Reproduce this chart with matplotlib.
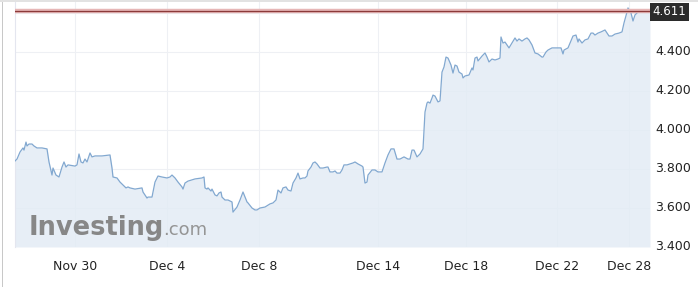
import matplotlib
matplotlib.use("Agg")
import matplotlib.pyplot as plt
from matplotlib.patches import Rectangle

# time index (session-based position along the axis) and yield values
t = [0, 2, 5, 8, 9, 11, 12, 14, 17, 19, 22, 27, 32, 34, 37, 38, 41, 44, 47, 49,
     51, 53, 60, 62, 64, 66, 68, 70, 72, 75, 77, 80, 87, 95, 97, 98, 102, 105, 108, 111,
     113, 115, 120, 127, 128, 132, 133, 137, 140, 143, 147, 152, 155, 157, 160, 163, 167, 168, 170, 173,
     180, 187, 189, 190, 192, 193, 196, 197, 200, 202, 204, 206, 207, 210, 213, 217, 218, 222, 225, 228,
     232, 233, 237, 240, 242, 245, 250, 255, 258, 261, 263, 266, 268, 271, 273, 276, 278, 281, 283, 285,
     288, 290, 292, 293, 296, 298, 300, 302, 305, 308, 312, 313, 315, 318, 320, 322, 325, 327, 329, 332,
     335, 338, 340, 343, 347, 348, 350, 352, 353, 357, 360, 363, 367, 370, 373, 376, 379, 382, 385, 389,
     393, 395, 397, 399, 402, 405, 408, 410, 412, 413, 415, 417, 418, 420, 423, 425, 427, 429, 431, 433,
     436, 438, 440, 442, 444, 447, 448, 450, 454, 457, 458, 460, 462, 463, 467, 470, 472, 474, 477, 480,
     483, 485, 486, 488, 490, 492, 494, 497, 500, 502, 504, 507, 510, 512, 514, 517, 520, 523, 527, 528,
     531, 533, 537, 540, 543, 546, 548, 549, 553, 555, 558, 561, 563, 564, 567, 570, 573, 576, 578, 580,
     583, 586, 590, 592, 594, 597, 600, 604, 607, 609, 612, 613, 616, 618, 620, 622, 624, 626, 628, 632,
     635]
yld = [3.841, 3.851, 3.887, 3.908, 3.897, 3.938, 3.918, 3.928, 3.928, 3.918, 3.908, 3.908, 3.903, 3.836, 3.769, 3.805, 3.769, 3.759, 3.810, 3.836,
       3.810, 3.821, 3.815, 3.821, 3.877, 3.836, 3.831, 3.851, 3.836, 3.882, 3.862, 3.867, 3.867, 3.872, 3.805, 3.759, 3.754, 3.733, 3.718, 3.703,
       3.708, 3.703, 3.697, 3.703, 3.682, 3.651, 3.656, 3.656, 3.733, 3.764, 3.759, 3.754, 3.759, 3.769, 3.754, 3.733, 3.708, 3.697, 3.728, 3.738,
       3.749, 3.754, 3.759, 3.703, 3.697, 3.703, 3.687, 3.697, 3.667, 3.662, 3.677, 3.682, 3.656, 3.641, 3.641, 3.631, 3.579, 3.605, 3.641, 3.682,
       3.631, 3.626, 3.600, 3.590, 3.590, 3.600, 3.605, 3.621, 3.626, 3.641, 3.692, 3.677, 3.703, 3.708, 3.692, 3.687, 3.728, 3.754, 3.779, 3.749,
       3.754, 3.754, 3.764, 3.790, 3.810, 3.831, 3.836, 3.826, 3.805, 3.805, 3.810, 3.810, 3.785, 3.785, 3.790, 3.779, 3.779, 3.795, 3.821, 3.821,
       3.826, 3.831, 3.836, 3.826, 3.815, 3.810, 3.728, 3.733, 3.769, 3.795, 3.795, 3.785, 3.785, 3.831, 3.872, 3.903, 3.903, 3.851, 3.851, 3.862,
       3.851, 3.851, 3.897, 3.897, 3.862, 3.877, 3.903, 4.092, 4.138, 4.144, 4.138, 4.164, 4.179, 4.174, 4.144, 4.149, 4.297, 4.323, 4.374, 4.369,
       4.333, 4.292, 4.333, 4.328, 4.297, 4.287, 4.267, 4.277, 4.282, 4.318, 4.308, 4.369, 4.374, 4.354, 4.379, 4.395, 4.374, 4.349, 4.364, 4.359,
       4.364, 4.369, 4.477, 4.446, 4.451, 4.436, 4.421, 4.446, 4.472, 4.456, 4.467, 4.456, 4.467, 4.472, 4.462, 4.436, 4.395, 4.390, 4.374, 4.374,
       4.400, 4.410, 4.421, 4.421, 4.421, 4.421, 4.390, 4.410, 4.421, 4.446, 4.482, 4.487, 4.451, 4.467, 4.446, 4.462, 4.467, 4.497, 4.497, 4.487,
       4.497, 4.503, 4.513, 4.497, 4.482, 4.482, 4.492, 4.497, 4.503, 4.549, 4.605, 4.626, 4.600, 4.559, 4.590, 4.600, 4.615, 4.605, 4.615, 4.605,
       4.611]
tick_pos = [60, 152, 244, 363, 451, 542, 614]
tick_labels = ["Nov 30", "Dec 4", "Dec 8", "Dec 14", "Dec 18", "Dec 22", "Dec 28"]
y_ticks = [3.4, 3.6, 3.8, 4.0, 4.2, 4.4]
last_value = 4.611

W, H = 698, 287
fig = plt.figure(figsize=(W / 100, H / 100), dpi=100)
fig.patch.set_facecolor("white")
ax = fig.add_axes([15 / W, 40 / H, 635 / W, 247 / H])
ax.set_facecolor("white")

ymin = 3.4
ymax = 3.4 + 247 / 195
ax.set_xlim(0, 635)
ax.set_ylim(ymin, ymax)

for y in y_ticks + [4.6]:
    ax.axhline(y, color="#eef0f4", lw=0.8, zorder=0)
for x in tick_pos:
    ax.axvline(x, color="#eef0f4", lw=0.8, zorder=0)

ax.fill_between(t, yld, ymin, color="#e3ecf5", alpha=0.85, lw=0, zorder=1)
ax.plot(t, yld, color="#82a8d0", lw=0.9, zorder=3)

# last-value horizontal line
ax.axhline(last_value, color="#e6b6b6", lw=3.2, zorder=4)
ax.axhline(last_value, color="#8b3a3a", lw=0.9, zorder=5)

for s in ["top", "right", "bottom"]:
    ax.spines[s].set_visible(False)
ax.spines["left"].set_color("#e4e6ef")
ax.spines["left"].set_linewidth(0.8)

ax.set_xticks(tick_pos)
ax.set_xticklabels(tick_labels)
ax.tick_params(axis="x", length=0, pad=9, labelsize=9, colors="#222222")
ax.set_yticks([])

# y labels on the right
for y in y_ticks:
    ax.text(1.008, (y - ymin) / (ymax - ymin), f"{y:.3f}", transform=ax.transAxes,
            ha="left", va="center", fontsize=9, color="#222222")

# last value box
ax.text(1.004, (last_value - ymin) / (ymax - ymin) - 0.004, f"{last_value:.3f}",
        transform=ax.transAxes, ha="left", va="center", fontsize=8.5, color="white",
        bbox=dict(boxstyle="square,pad=0.22", fc="#2b2b2b", ec="none"), zorder=10)

# watermark
fig.text(29 / W, 1 - 235 / H, "Investing", fontsize=18.5, fontweight="bold",
         color="#878787", ha="left", va="baseline")
fig.text(163 / W, 1 - 235 / H, ".com", fontsize=13, color="#959595",
         ha="left", va="baseline")

# frame borders
fig.add_artist(Rectangle((2 / W, 0), 1 / W, 1, transform=fig.transFigure,
                         color="#c8c8c8", lw=0))
fig.add_artist(Rectangle((0, 1 - 2 / H), 1, 2 / H, transform=fig.transFigure,
                         color="#e2e2e2", lw=0))

fig.savefig("out.png", dpi=100)
